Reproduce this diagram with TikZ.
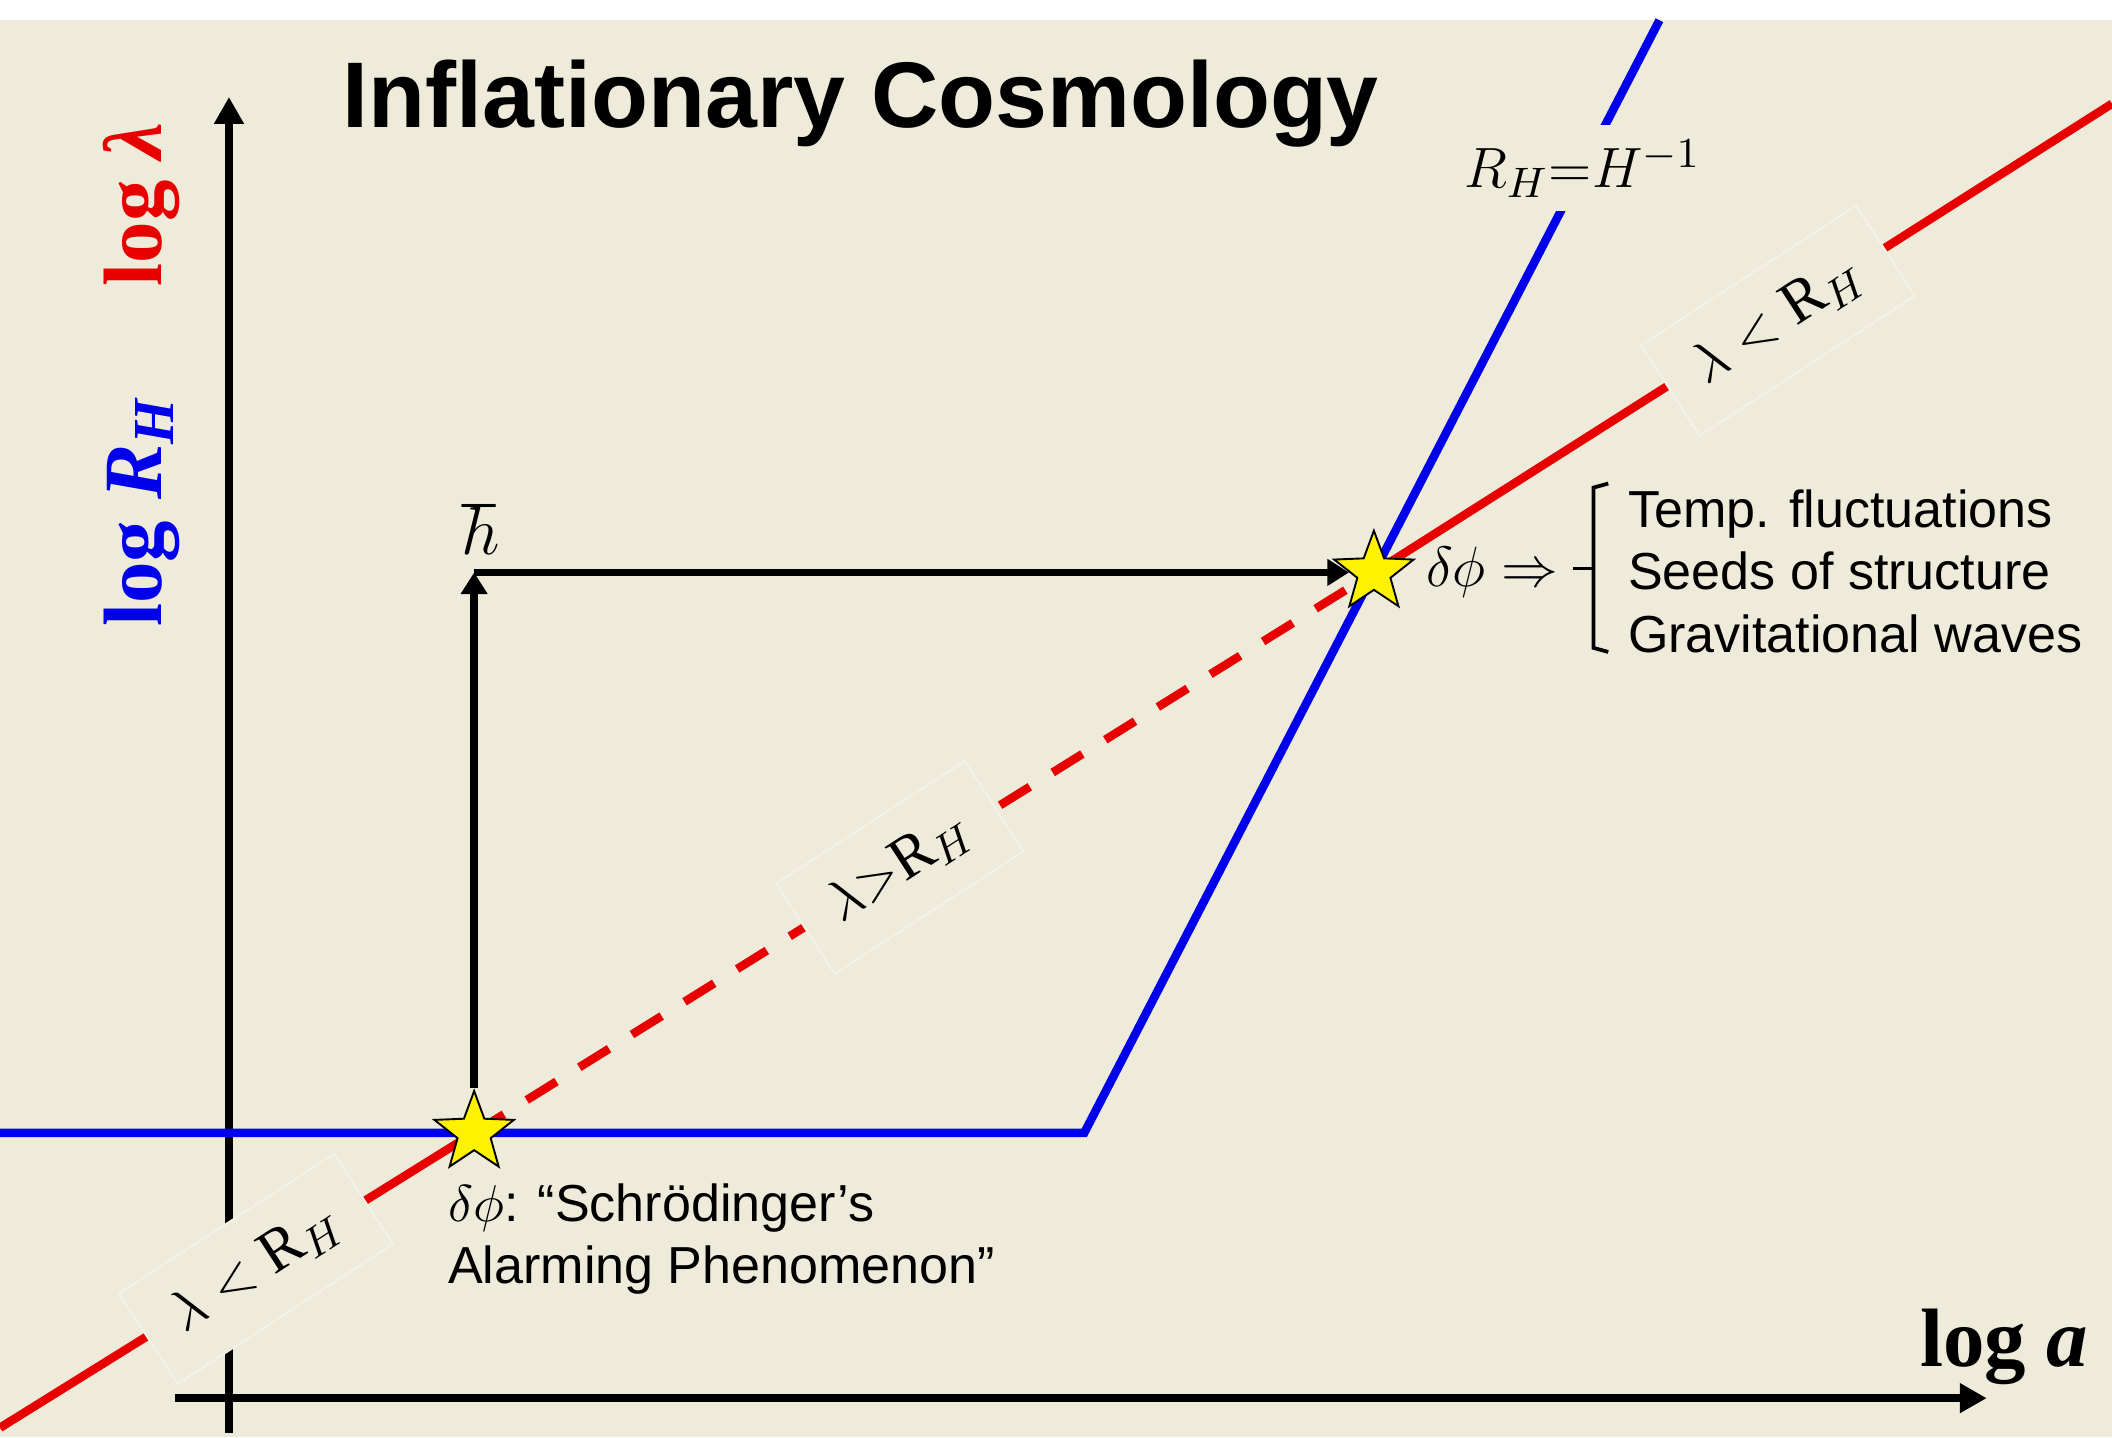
\documentclass[tikz,border=0pt]{standalone}
\usepackage{amsmath}
\usepackage{fontspec}
\setmainfont{Liberation Serif}
\setsansfont{Liberation Sans}
\usetikzlibrary{shapes.geometric,arrows.meta,positioning}
\definecolor{slidebg}{RGB}{239,235,219}
\definecolor{hblue}{RGB}{0,0,235}
\definecolor{wred}{RGB}{232,0,0}

\begin{document}
\begin{tikzpicture}[
 axis/.style={line width=1.8pt, -{Triangle[length=2mm,width=2.1mm]}},
 hline/.style={hblue, line width=1.8pt},
 wline/.style={wred, line width=1.8pt},
 regime/.style={fill=slidebg, draw=white!30!slidebg, line width=0.4pt, rotate=33,
   inner xsep=7pt, minimum height=8mm, font=\fontsize{13}{15}\selectfont},
 flux/.style={star, star points=5, star point ratio=2.4, draw=black, fill=yellow,
   minimum size=6.2mm, inner sep=0pt, thin},
 txt/.style={font=\sffamily\fontsize{11}{13.2}\selectfont, align=left, inner sep=0pt},
 >={Triangle[length=1.6mm,width=1.9mm]}]
\useasboundingbox (0,0) rectangle (15.68,10.67);
\fill[slidebg] (0,0) rectangle (15.68,10.52);

% corners of the curves
\coordinate (yfoot) at (1.70,0.03);
\coordinate (ytip) at (1.70,9.95);
\coordinate (xfoot) at (1.30,0.29);
\coordinate (xtip) at (14.75,0.29);
\coordinate (bleft) at (0,2.26);
\coordinate (bend) at (8.05,2.26);
\coordinate (btop) at (12.32,10.52);
\coordinate (rlow) at (0,0.07);
\coordinate (rhigh) at (15.68,9.90);
\coordinate (c1) at (3.52,2.26);
\coordinate (c2) at (10.20,6.42);
\coordinate (hcorner) at (3.52,6.42);

% axes
\draw[axis] (yfoot) -- (ytip);
\draw[axis] (xfoot) -- (xtip);

% Hubble radius and wavelength
\draw[hline] (bleft) -- (bend) -- (btop);
\draw[wline] (rlow) -- (c1);
\draw[wline, dash pattern=on 2.6mm off 2mm] (c1) -- (c2);
\draw[wline] (c2) -- (rhigh);

\node[fill=slidebg, inner sep=3pt, font=\fontsize{13}{15}\selectfont] (rhlab) at (11.75,9.42) {$R_H{=}H^{-1}$};
\node[regime] (inlow) at (1.90,1.25) {$\lambda < \mathrm{R}_H$};
\node[regime] (outmid) at (6.68,4.23) {$\lambda{>}\mathrm{R}_H$};
\node[regime] (inhigh) at (13.20,8.29) {$\lambda < \mathrm{R}_H$};

% crossings
\node[flux] (s1) at (c1) {};
\node[flux] (s2) at (c2) {};
\draw[->, line width=1.6pt] (s1) -- (hcorner);
\draw[->, line width=1.6pt] (hcorner) -- (s2);
\node[anchor=base, font=\fontsize{14}{16}\selectfont] (hbar) at (3.57,6.55) {$\hbar$};

% texts
\node[anchor=base, font=\sffamily\bfseries\fontsize{19.7}{23}\selectfont] (title) at (6.39,9.72) {Inflationary Cosmology};
\node[rotate=90, hblue, font=\bfseries\fontsize{17.5}{20}\selectfont] (ylabA) at (1.05,6.87) {log \textit{R}$_{\text{\bfseries\itshape H}}$};
\node[rotate=90, wred, font=\bfseries\fontsize{17.5}{20}\selectfont] (ylabB) at (1.05,9.15) {log \textit{λ}};
\node[font=\bfseries\fontsize{17.5}{20}\selectfont] (xlab) at (14.88,0.67) {log \textit{a}};
\node[font=\fontsize{13}{15}\selectfont] (dphi) at (11.08,6.42) {$\delta\phi\Rightarrow$};
\draw[line width=0.8pt] (11.94,7.08) -- (11.83,7.05) -- (11.83,5.86) -- (11.94,5.83);
\draw[line width=0.8pt] (11.83,6.45) -- (11.68,6.45);
\node[txt, anchor=west] (effects) at (12.08,6.43) {Temp. fluctuations\\Seeds of structure\\Gravitational waves};
\node[txt, anchor=north west] (schr) at (3.32,1.89) {$\delta\phi$: “Schrödinger’s\\Alarming Phenomenon”};
\end{tikzpicture}
\end{document}
